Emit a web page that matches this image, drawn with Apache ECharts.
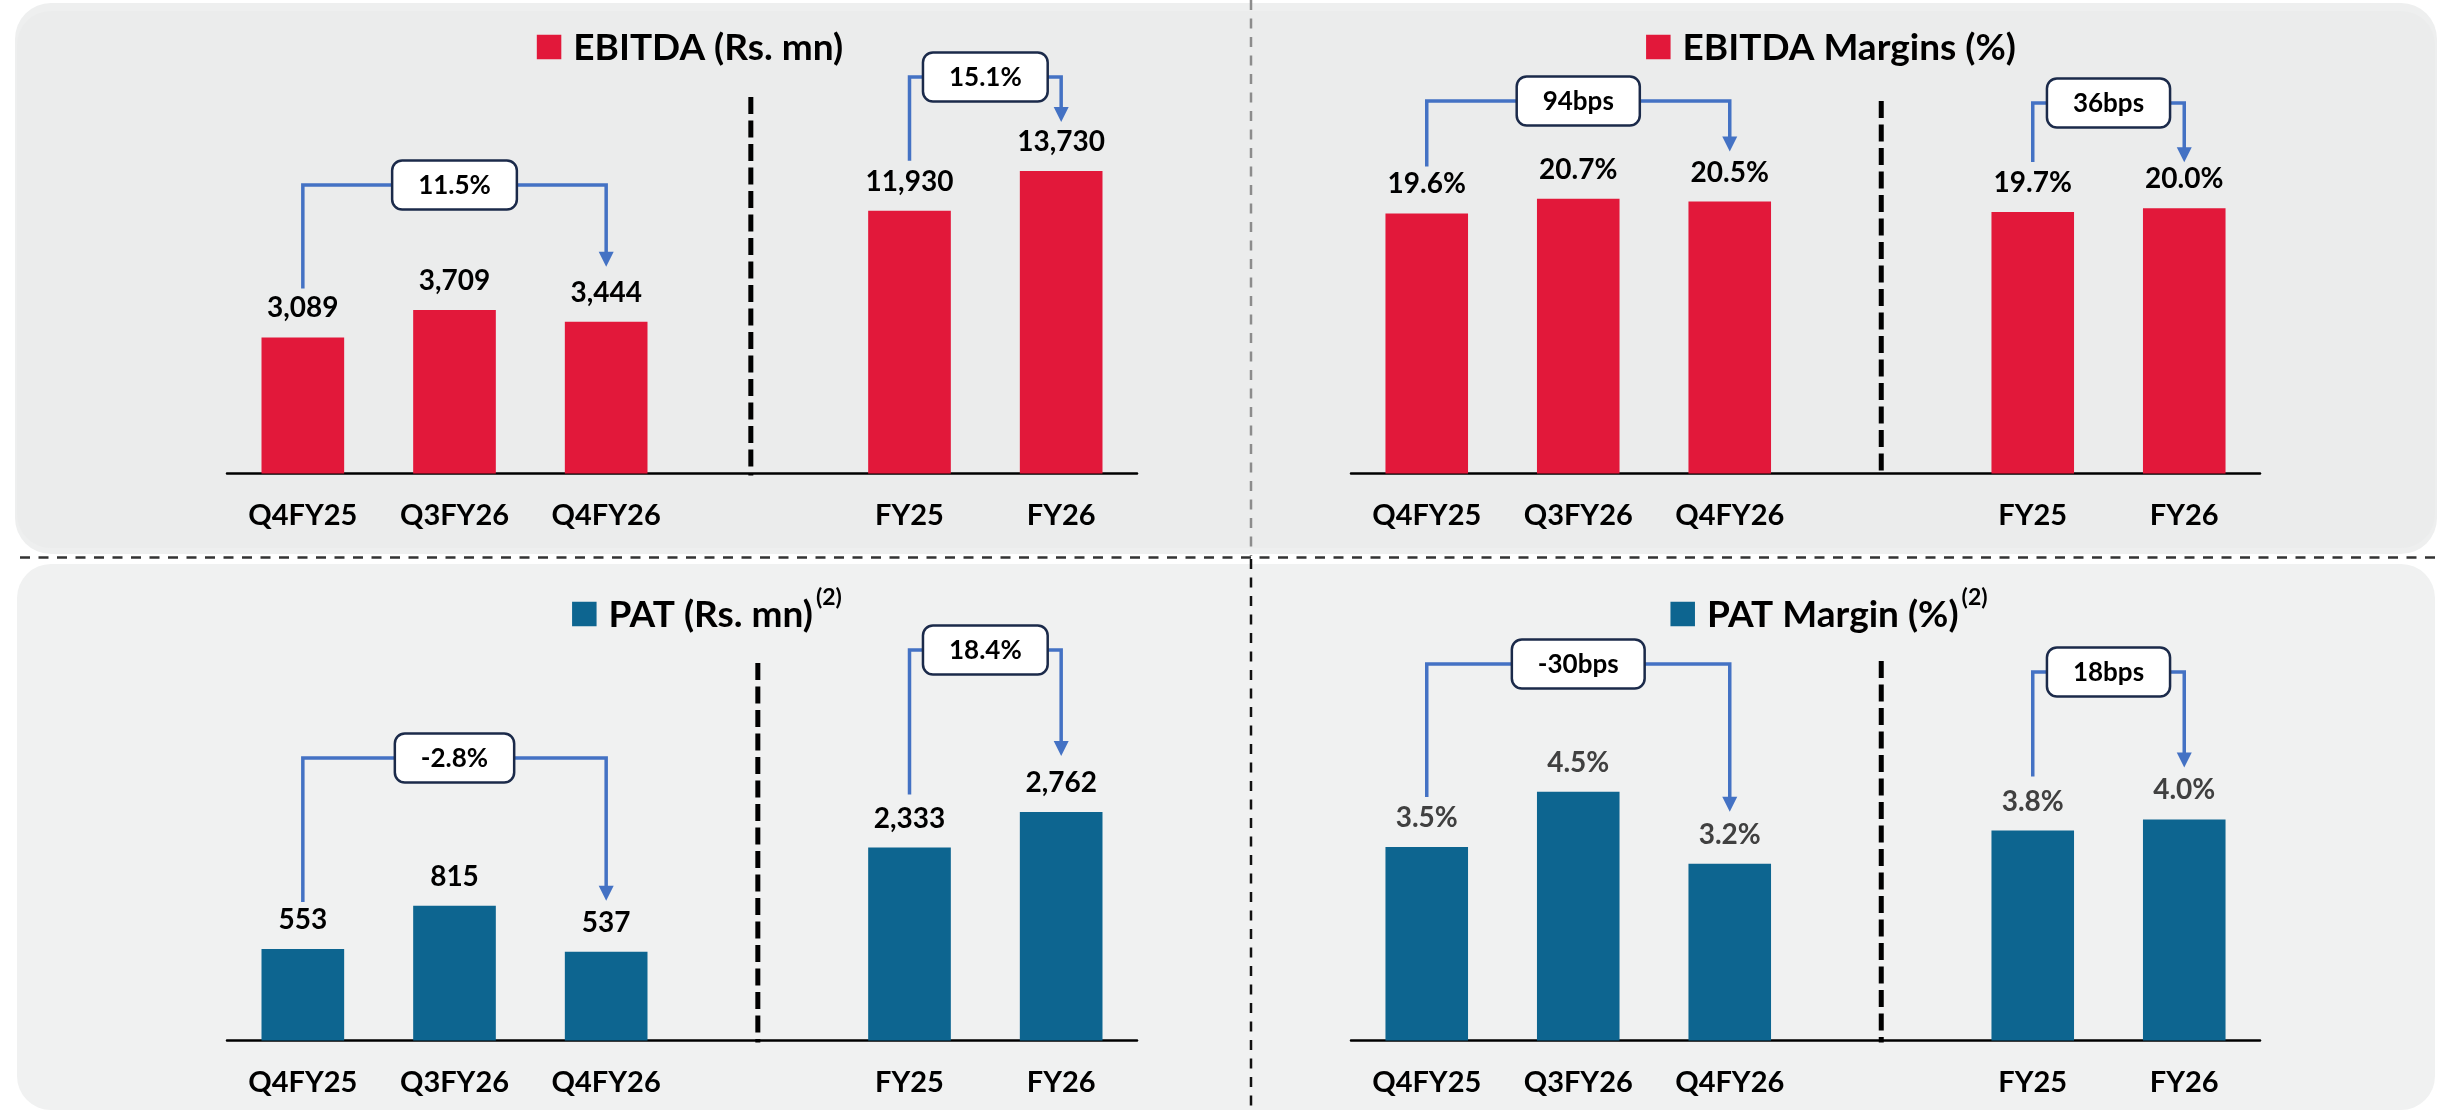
<!DOCTYPE html>
<html>
<head>
<meta charset="utf-8">
<title>EBITDA and PAT</title>
<script src="https://cdn.jsdelivr.net/npm/echarts@6/dist/echarts.min.js"></script>
<style>
  html, body { margin: 0; padding: 0; background: #ffffff; }
  #chart { width: 2447px; height: 1115px; }
</style>
</head>
<body>
<div id="chart"></div>
<script>
// ---- data ----
const periods = ['Q4FY25', 'Q3FY26', 'Q4FY26', '', 'FY25', 'FY26'];
const quarterIdx = [0, 1, 2];
const yearIdx = [4, 5];

const ebitdaQuarter = [3089, 3709, 3444];
const ebitdaYear = [11930, 13730];
const ebitdaMarginQuarter = [19.6, 20.7, 20.5];
const ebitdaMarginYear = [19.7, 20.0];
const patQuarter = [553, 815, 537];
const patYear = [2333, 2762];
const patMarginQuarter = [3.5, 4.5, 3.2];
const patMarginYear = [3.8, 4.0];

const ebitdaChange = ['11.5%', '15.1%'];
const ebitdaMarginChange = ['94bps', '36bps'];
const patChange = ['-2.8%', '18.4%'];
const patMarginChange = ['-30bps', '18bps'];

// ---- styling ----
const FONT = 'Lato, "Open Sans", sans-serif';
const RED = '#E2183A';
const BLUE = '#0D6590';
const BRACKET = '#4472C4';
const BOX_EDGE = '#1B2A4A';

const fmtNum = v => v.toLocaleString('en-US');
const fmtPct = v => v.toFixed(1) + '%';

const panels = [
  { title: 'EBITDA (Rs. mn)', sup: '', color: RED, titleCx: 690, titleCy: 47,
    grid: { left: 227, top: 33, width: 910, height: 440.5 },
    qMax: 10000, yMax: 20000, q: ebitdaQuarter, y: ebitdaYear, fmt: fmtNum, labelColor: '#000',
    change: ebitdaChange, divDx: -7, divTop: 64,
    brackets: [{ level: 152, g0: 49, g1: 55 }, { level: 44, g0: 50, g1: 49 }] },
  { title: 'EBITDA Margins (%)', sup: '', color: RED, titleCx: 1831, titleCy: 47,
    grid: { left: 1351, top: 33, width: 909, height: 440.5 },
    qMax: 33.2, yMax: 33.2, q: ebitdaMarginQuarter, y: ebitdaMarginYear, fmt: fmtPct, labelColor: '#000',
    change: ebitdaMarginChange, divDx: 0, divTop: 68,
    brackets: [{ level: 68, g0: 47, g1: 50 }, { level: 70, g0: 50, g1: 46 }] },
  { title: 'PAT (Rs. mn)', sup: '(2)', color: BLUE, titleCx: 707, titleCy: 614,
    grid: { left: 227, top: 600, width: 910, height: 440.5 },
    qMax: 2662, yMax: 5324, q: patQuarter, y: patYear, fmt: fmtNum, labelColor: '#000',
    change: patChange, divDx: 0, divTop: 63,
    brackets: [{ level: 158, g0: 47, g1: 51 }, { level: 50, g0: 53, g1: 56 }] },
  { title: 'PAT Margin (%)', sup: '(2)', color: BLUE, titleCx: 1829, titleCy: 614,
    grid: { left: 1351, top: 600, width: 909, height: 440.5 },
    qMax: 7.97, yMax: 7.97, q: patMarginQuarter, y: patMarginYear, fmt: fmtPct, labelColor: '#404040',
    change: patMarginChange, divDx: 0, divTop: 61,
    brackets: [{ level: 64, g0: 50, g1: 52 }, { level: 72, g0: 54, g1: 52 }] }
];

function slotData(values, idx) {
  const out = periods.map(() => '-');
  idx.forEach((k, i) => { out[k] = values[i]; });
  return out;
}

const measureCtx = document.createElement('canvas').getContext('2d');
function textW(str, size) {
  measureCtx.font = 'bold ' + size + 'px ' + FONT;
  return measureCtx.measureText(str).width;
}

const option = {
  backgroundColor: '#ffffff',
  animation: false,
  grid: panels.map(p => Object.assign({ containLabel: false }, p.grid)),
  xAxis: panels.map((p, i) => ({
    type: 'category', gridIndex: i, data: periods,
    axisTick: { show: false },
    axisLine: { lineStyle: { color: '#000', width: 2.5 } },
    axisLabel: { interval: 0, margin: 28, fontFamily: FONT, fontWeight: 'bold', fontSize: 29, color: '#000' },
    splitLine: { show: false }
  })),
  yAxis: panels.flatMap((p, i) => [
    { type: 'value', gridIndex: i, min: 0, max: p.qMax, show: false },
    { type: 'value', gridIndex: i, min: 0, max: p.yMax, show: false }
  ]),
  series: panels.flatMap((p, i) => {
    const label = {
      show: true, position: 'top', distance: 15,
      fontFamily: FONT, fontWeight: 'bold', fontSize: 28, color: p.labelColor,
      formatter: prm => p.fmt(prm.value)
    };
    const common = { type: 'bar', xAxisIndex: i, barWidth: '54.5%', barGap: '-100%',
      itemStyle: { color: p.color }, label };
    return [
      Object.assign({ name: p.title + ' quarter', yAxisIndex: 2 * i, data: slotData(p.q, quarterIdx) }, common),
      Object.assign({ name: p.title + ' year', yAxisIndex: 2 * i + 1, data: slotData(p.y, yearIdx) }, common)
    ];
  })
};

const chart = echarts.init(document.getElementById('chart'), null, { renderer: 'canvas' });
chart.setOption(option);

// ---- decorations: panels, dividers, titles, change brackets ----
const g = [];

// panel backgrounds
g.push({ type: 'rect', z: -20, shape: { x: 15, y: 3, width: 2422, height: 551, r: 36 }, style: { fill: '#EEEFEF' } });
g.push({ type: 'rect', z: -19, shape: { x: 17, y: 11, width: 2418, height: 537, r: 34 }, style: { fill: '#EBECEC' } });
g.push({ type: 'rect', z: -19, shape: { x: 17, y: 564, width: 2418, height: 546, r: 34 }, style: { fill: '#F0F1F1' } });

// page dividers
g.push({ type: 'line', z: -5, shape: { x1: 20, y1: 557.5, x2: 2442, y2: 557.5 },
  style: { stroke: '#333', lineWidth: 2.5, lineDash: [10, 8.5] } });
g.push({ type: 'line', z: -5, shape: { x1: 1251, y1: 0, x2: 1251, y2: 556 },
  style: { stroke: '#8C8C8C', lineWidth: 2.5, lineDash: [10, 8.5] } });
g.push({ type: 'line', z: -5, shape: { x1: 1251, y1: 559, x2: 1251, y2: 1112 },
  style: { stroke: '#111', lineWidth: 2.5, lineDash: [10, 8.5] } });

panels.forEach((p, i) => {
  const gridTop = p.grid.top;
  const base = p.grid.top + p.grid.height;

  // title: colour key, text, optional superscript
  const sq = 24.5, gap = 12;
  const tw = textW(p.title, 37);
  const sw = p.sup ? textW(p.sup, 23) + 3 : 0;
  const x0 = p.titleCx - (sq + gap + tw + sw) / 2;
  g.push({ type: 'rect', z: 10, shape: { x: x0, y: p.titleCy - sq / 2, width: sq, height: sq }, style: { fill: p.color } });
  g.push({ type: 'text', z: 10, style: { text: p.title, x: x0 + sq + gap, y: p.titleCy + 1,
    align: 'left', verticalAlign: 'middle', textAlign: 'left', textVerticalAlign: 'middle',
    font: 'bold 37px ' + FONT, fill: '#000' } });
  if (p.sup) {
    g.push({ type: 'text', z: 10, style: { text: p.sup, x: x0 + sq + gap + tw + 3, y: p.titleCy - 16,
      align: 'left', verticalAlign: 'middle', textAlign: 'left', textVerticalAlign: 'middle',
      font: 'bold 23px ' + FONT, fill: '#000' } });
  }

  // dashed separator between quarterly and yearly groups
  const sepX = chart.convertToPixel({ xAxisIndex: i, yAxisIndex: 2 * i }, [3, 0])[0] + p.divDx;
  g.push({ type: 'line', z: 5, shape: { x1: sepX, y1: gridTop + p.divTop, x2: sepX, y2: base + 2 },
    style: { stroke: '#000', lineWidth: 5, lineDash: [17, 6.5] } });

  // change brackets
  const groups = [
    { a: 0, b: 2, va: p.q[0], vb: p.q[2], yi: 2 * i },
    { a: 4, b: 5, va: p.y[0], vb: p.y[1], yi: 2 * i + 1 }
  ];
  groups.forEach((grp, k) => {
    const bk = p.brackets[k];
    const pa = chart.convertToPixel({ xAxisIndex: i, yAxisIndex: grp.yi }, [grp.a, grp.va]);
    const pb = chart.convertToPixel({ xAxisIndex: i, yAxisIndex: grp.yi }, [grp.b, grp.vb]);
    const ly = gridTop + bk.level;
    const y0 = pa[1] - bk.g0;
    const tip = pb[1] - bk.g1;
    const cx = (pa[0] + pb[0]) / 2;
    const txt = p.change[k];
    const bw = Math.max(117, textW(txt, 26) + 52), bh = 49;
    g.push({ type: 'polyline', z: 20, shape: { points: [[pa[0], y0], [pa[0], ly], [cx, ly], [pb[0], ly], [pb[0], tip - 14]] },
      style: { stroke: BRACKET, lineWidth: 3.5, fill: null } });
    g.push({ type: 'polygon', z: 20, shape: { points: [[pb[0] - 7.5, tip - 15], [pb[0] + 7.5, tip - 15], [pb[0], tip]] },
      style: { fill: BRACKET } });
    g.push({ type: 'rect', z: 21, shape: { x: cx - bw / 2, y: ly - bh / 2, width: bw, height: bh, r: 10 },
      style: { fill: '#ffffff', stroke: BOX_EDGE, lineWidth: 2.5 } });
    g.push({ type: 'text', z: 22, style: { text: txt, x: cx, y: ly + 1,
      align: 'center', verticalAlign: 'middle', textAlign: 'center', textVerticalAlign: 'middle',
      font: 'bold 26px ' + FONT, fill: '#000' } });
  });
});

chart.setOption({ graphic: { elements: g } });
</script>
</body>
</html>
